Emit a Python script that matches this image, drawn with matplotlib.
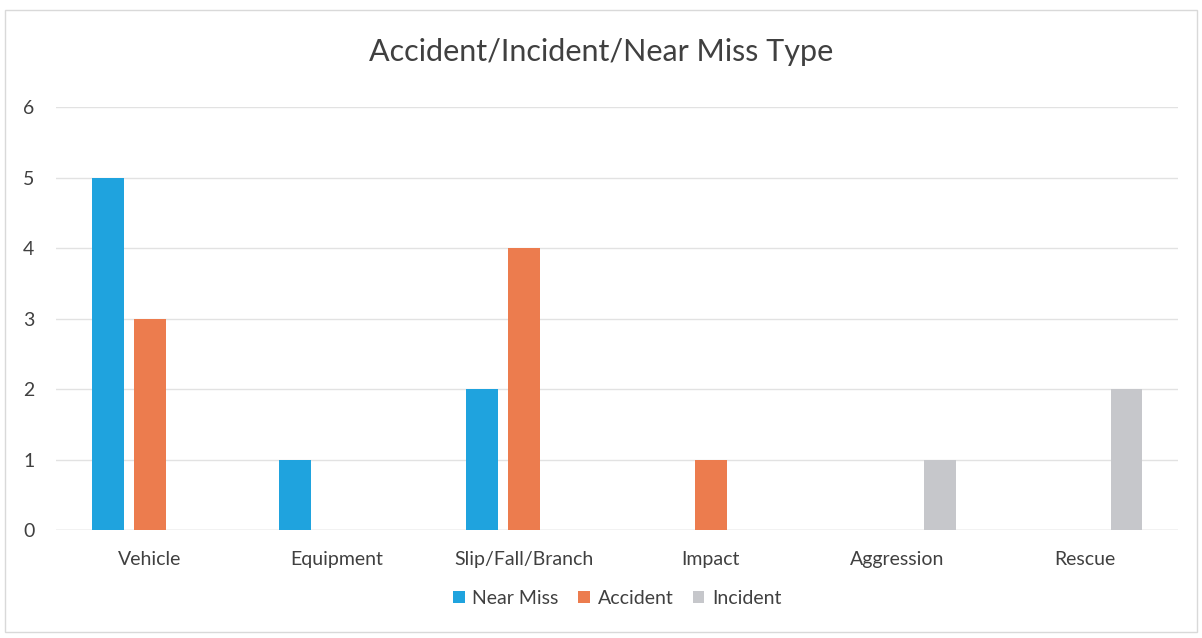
import matplotlib.pyplot as plt
import numpy as np

plt.rcParams['font.family'] = ['Lato', 'DejaVu Sans']

# chart data
categories = ['Vehicle', 'Equipment', 'Slip/Fall/Branch', 'Impact', 'Aggression', 'Rescue']
near_miss = [5, 1, 2, 0, 0, 0]
accident = [3, 0, 4, 1, 0, 0]
incident = [0, 0, 0, 0, 1, 2]
series_names = ['Near Miss', 'Accident', 'Incident']
colors = ['#1FA3DE', '#EC7C4E', '#C6C7CB']

fig = plt.figure(figsize=(12.02, 6.38), dpi=100)
ax = fig.add_axes([0.047, 0.169, 0.933, 0.663])

x = np.arange(len(categories))
width = 0.17
step = 0.225
for i, (vals, name, col) in enumerate(zip([near_miss, accident, incident], series_names, colors)):
    ax.bar(x + (i - 1) * step, vals, width, color=col, label=name, zorder=3)

ax.set_xlim(-0.5, len(categories) - 0.5)
ax.set_ylim(0, 6)
ax.set_yticks(range(7))
ax.set_xticks(x)
ax.set_xticklabels(categories, fontsize=14)
ax.tick_params(axis='y', labelsize=14, length=0, pad=16)
ax.tick_params(axis='x', length=0, pad=15)
ax.yaxis.grid(True, color='#E2E2E2', linewidth=1, zorder=0)
for s in ax.spines.values():
    s.set_visible(False)
ax.axhline(0, color='#DADADA', linewidth=1, zorder=2)
for lbl in ax.get_xticklabels() + ax.get_yticklabels():
    lbl.set_color('#404040')

fig.suptitle('Accident/Incident/Near Miss Type', fontsize=22, color='#404040', y=0.94)
ax.legend(loc='upper center', bbox_to_anchor=(0.5, -0.1), ncol=3, frameon=False,
          fontsize=14, handlelength=0.6, handleheight=0.6, handletextpad=0.4,
          columnspacing=1.0, labelcolor='#404040')

# faint border around the chart area
fig.patches.append(plt.Rectangle((0.004, 0.01), 0.992, 0.975, transform=fig.transFigure,
                                 fill=False, edgecolor='#D9D9D9', linewidth=1))

fig.savefig('out.png', dpi=100)
